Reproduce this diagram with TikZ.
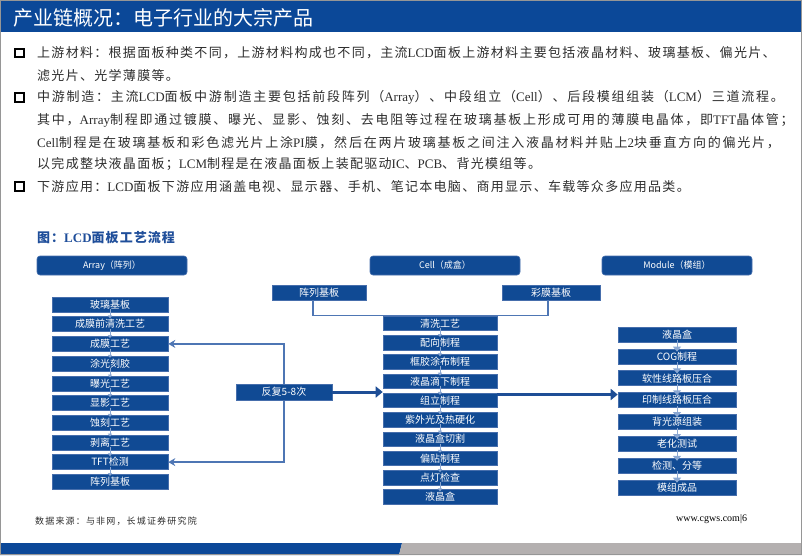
\documentclass[tikz,border=0pt]{standalone}
\usepackage{fontspec}
\setmainfont{Noto Sans CJK SC}
\newfontfamily\enfont{Liberation Serif}
\newfontfamily\bodyfont[LetterSpace=10]{Noto Sans CJK SC}
\newfontfamily\bodywide[LetterSpace=13.5]{Noto Sans CJK SC}
\newfontfamily\capfont[LetterSpace=8]{Noto Sans CJK SC}
\newfontfamily\srcfont[LetterSpace=13]{Noto Sans CJK SC}
\usetikzlibrary{arrows.meta}

\definecolor{hdrblue}{RGB}{11,72,152}
\definecolor{boxblue}{RGB}{16,74,148}
\definecolor{boxedge}{RGB}{70,110,172}
\definecolor{steplight}{RGB}{140,168,210}
\definecolor{loopblue}{RGB}{78,118,180}
\definecolor{darkarrow}{RGB}{30,78,150}
\definecolor{capblue}{RGB}{31,78,154}
\definecolor{bargray}{RGB}{180,176,176}
\definecolor{framegray}{RGB}{150,150,150}
\definecolor{bodygray}{RGB}{45,45,45}

\newcommand{\en}[1]{{\enfont #1}}

\tikzset{
  pbox/.style={fill=boxblue, draw=boxedge, line width=0.6pt, text=white,
    font=\fontsize{10}{10}\selectfont, minimum height=15pt, inner sep=0pt},
  hbox/.style={pbox, rounded corners=3pt, minimum width=150pt,
    minimum height=19pt, font=\fontsize{9}{9}\selectfont},
  arrbox/.style={pbox, minimum width=116pt},
  cellbox/.style={pbox, minimum width=114pt, minimum height=14.5pt},
  modbox/.style={pbox, minimum width=118pt},
  bodyline/.style={anchor=west, inner sep=0pt, text=bodygray,
    font=\bodyfont\fontsize{13}{13}\selectfont},
  wideline/.style={bodyline, font=\bodywide\fontsize{13}{13}\selectfont},
  chkbox/.style={draw=black, line width=1.9pt, minimum size=8.5pt, inner sep=0pt},
  steparrow/.style={draw=steplight, line width=0.8pt, -{Triangle[width=4pt,length=3pt]}},
  modarrow/.style={draw=steplight, line width=1pt, -{Triangle[width=8pt,length=5pt]}},
  loopline/.style={draw=loopblue, line width=1.6pt, -{Stealth[length=7pt,width=8pt]}},
  joinline/.style={draw=loopblue, line width=1.6pt},
  bigarrow/.style={draw=darkarrow, line width=3pt, -{Triangle[length=7pt,width=11pt]}}
}

\begin{document}
\begin{tikzpicture}[x=1pt,y=-1pt]
\useasboundingbox (0,0) rectangle (802,555);
% page frame, header and footer bars
\fill[hdrblue] (0,0) rectangle (802,32);
\fill[hdrblue] (0,543) -- (402,543) -- (399,555) -- (0,555) -- cycle;
\fill[bargray] (402,543) -- (802,543) -- (802,555) -- (399,555) -- cycle;
\draw[framegray, line width=1pt] (0.5,0.5) rectangle (801.5,554.5);
\node[anchor=west, inner sep=0pt, text=white, font=\fontsize{20}{20}\selectfont] (title) at (13,18) {产业链概况：电子行业的大宗产品};

% bullet text
\node[chkbox] (chk1) at (19.5,53) {};
\node[chkbox] (chk2) at (19.5,97.5) {};
\node[chkbox] (chk3) at (19.5,186.5) {};
\node[bodyline] (line1) at (37,53) {上游材料：根据面板种类不同，上游材料构成也不同，主流\en{LCD}面板上游材料主要包括液晶材料、玻璃基板、偏光片、};
\node[bodyline] (line2) at (37,75.5) {滤光片、光学薄膜等。};
\node[wideline] (line3) at (37,97.5) {中游制造：主流\en{LCD}面板中游制造主要包括前段阵列（\en{Array}）、中段组立（\en{Cell}）、后段模组组装（\en{LCM}）三道流程。};
\node[wideline] (line4) at (37,120) {其中，\en{Array}制程即通过镀膜、曝光、显影、蚀刻、去电阻等过程在玻璃基板上形成可用的薄膜电晶体，即\en{TFT}晶体管；};
\node[wideline] (line5) at (37,142.5) {\en{Cell}制程是在玻璃基板和彩色滤光片上涂\en{PI}膜，然后在两片玻璃基板之间注入液晶材料并贴上\en{2}块垂直方向的偏光片，};
\node[bodyline] (line6) at (37,164.5) {以完成整块液晶面板；\en{LCM}制程是在液晶面板上装配驱动\en{IC}、\en{PCB}、背光模组等。};
\node[bodyline] (line7) at (37,186.5) {下游应用：\en{LCD}面板下游应用涵盖电视、显示器、手机、笔记本电脑、商用显示、车载等众多应用品类。};

% figure caption and stage headers
\node[anchor=west, inner sep=0pt, text=capblue, font=\capfont\bfseries\fontsize{13}{13}\selectfont] (cap) at (37,238) {图：\en{\bfseries LCD}面板工艺流程};
\node[hbox] (harr) at (112,265.5) {Array（阵列）};
\node[hbox] (hcell) at (445,265.5) {Cell（成盒）};
\node[hbox] (hmod) at (677,265.5) {Module（模组）};

% Array column
\node[arrbox] (a1) at (110,304.5) {玻璃基板};
\node[arrbox] (a2) at (110,324.2) {成膜前清洗工艺};
\node[arrbox] (a3) at (110,343.9) {成膜工艺};
\node[arrbox] (a4) at (110,363.6) {涂光刻胶};
\node[arrbox] (a5) at (110,383.3) {曝光工艺};
\node[arrbox] (a6) at (110,403.0) {显影工艺};
\node[arrbox] (a7) at (110,422.7) {蚀刻工艺};
\node[arrbox] (a8) at (110,442.4) {剥离工艺};
\node[arrbox] (a9) at (110,462.1) {TFT检测};
\node[arrbox] (a10) at (110,481.8) {阵列基板};
\draw[steparrow] ([yshift=3pt]a1.south) -- ([yshift=-2pt]a2.north);
\draw[steparrow] ([yshift=3pt]a2.south) -- ([yshift=-2pt]a3.north);
\draw[steparrow] ([yshift=3pt]a3.south) -- ([yshift=-2pt]a4.north);
\draw[steparrow] ([yshift=3pt]a4.south) -- ([yshift=-2pt]a5.north);
\draw[steparrow] ([yshift=3pt]a5.south) -- ([yshift=-2pt]a6.north);
\draw[steparrow] ([yshift=3pt]a6.south) -- ([yshift=-2pt]a7.north);
\draw[steparrow] ([yshift=3pt]a7.south) -- ([yshift=-2pt]a8.north);
\draw[steparrow] ([yshift=3pt]a8.south) -- ([yshift=-2pt]a9.north);
\draw[steparrow] ([yshift=3pt]a9.south) -- ([yshift=-2pt]a10.north);

% Cell column
\node[pbox, minimum width=94pt] (ab) at (319,292.5) {阵列基板};
\node[pbox, minimum width=98pt] (cm) at (551,292.5) {彩膜基板};
\draw[joinline] ([xshift=-6pt]ab.south) -- ++(0,15) -| ([xshift=-3pt]cm.south);
\node[cellbox] (c1) at (440,323.3) {清洗工艺};
\node[cellbox] (c2) at (440,342.6) {配向制程};
\node[cellbox] (c3) at (440,361.9) {框胶涂布制程};
\node[cellbox] (c4) at (440,381.2) {液晶滴下制程};
\node[cellbox] (c5) at (440,400.5) {组立制程};
\node[cellbox] (c6) at (440,419.8) {紫外光及热硬化};
\node[cellbox] (c7) at (440,439.1) {液晶盒切割};
\node[cellbox] (c8) at (440,458.4) {偏贴制程};
\node[cellbox] (c9) at (440,477.7) {点灯检查};
\node[cellbox] (c10) at (440,497.0) {液晶盒};
\draw[steparrow] ([yshift=3pt]c1.south) -- ([yshift=-2pt]c2.north);
\draw[steparrow] ([yshift=3pt]c2.south) -- ([yshift=-2pt]c3.north);
\draw[steparrow] ([yshift=3pt]c3.south) -- ([yshift=-2pt]c4.north);
\draw[steparrow] ([yshift=3pt]c4.south) -- ([yshift=-2pt]c5.north);
\draw[steparrow] ([yshift=3pt]c5.south) -- ([yshift=-2pt]c6.north);
\draw[steparrow] ([yshift=3pt]c6.south) -- ([yshift=-2pt]c7.north);
\draw[steparrow] ([yshift=3pt]c7.south) -- ([yshift=-2pt]c8.north);
\draw[steparrow] ([yshift=3pt]c8.south) -- ([yshift=-2pt]c9.north);
\draw[steparrow] ([yshift=3pt]c9.south) -- ([yshift=-2pt]c10.north);

% Module column
\node[modbox] (m1) at (677,334.5) {液晶盒};
\node[modbox] (m2) at (677,356.4) {COG制程};
\node[modbox] (m3) at (677,378.2) {软性线路板压合};
\node[modbox] (m4) at (677,400.1) {印制线路板压合};
\node[modbox] (m5) at (677,421.9) {背光源组装};
\node[modbox] (m6) at (677,443.8) {老化测试};
\node[modbox] (m7) at (677,465.6) {检测、分等};
\node[modbox] (m8) at (677,487.5) {模组成品};
\draw[modarrow] ([yshift=2pt]m1.south) -- ([yshift=-3pt]m2.north);
\draw[modarrow] ([yshift=2pt]m2.south) -- ([yshift=-3pt]m3.north);
\draw[modarrow] ([yshift=2pt]m3.south) -- ([yshift=-3pt]m4.north);
\draw[modarrow] ([yshift=2pt]m4.south) -- ([yshift=-3pt]m5.north);
\draw[modarrow] ([yshift=2pt]m5.south) -- ([yshift=-3pt]m6.north);
\draw[modarrow] ([yshift=2pt]m6.south) -- ([yshift=-3pt]m7.north);
\draw[modarrow] ([yshift=2pt]m7.south) -- ([yshift=-3pt]m8.north);

% repeat loop and stage links
\coordinate (rep) at (284,392);
\draw[loopline] (rep) |- (a3.east);
\draw[loopline] (rep) |- (a9.east);
\node[pbox, minimum width=96pt, minimum height=16pt] (repbox) at (rep) {反复5-8次};
\draw[bigarrow] (repbox.east) -- (repbox.east -| c5.west);
\draw[bigarrow] ([yshift=6pt]c5.east) -- ([yshift=6pt]c5.east -| m4.west);

% footer
\node[anchor=west, inner sep=0pt, text=bodygray, font=\srcfont\fontsize{9}{9}\selectfont] (src) at (35,521) {数据来源：与非网，长城证券研究院};
\node[anchor=west, inner sep=0pt, font=\enfont\fontsize{10}{10}\selectfont] (web) at (676,519) {www.cgws.com|6};
\end{tikzpicture}
\end{document}
